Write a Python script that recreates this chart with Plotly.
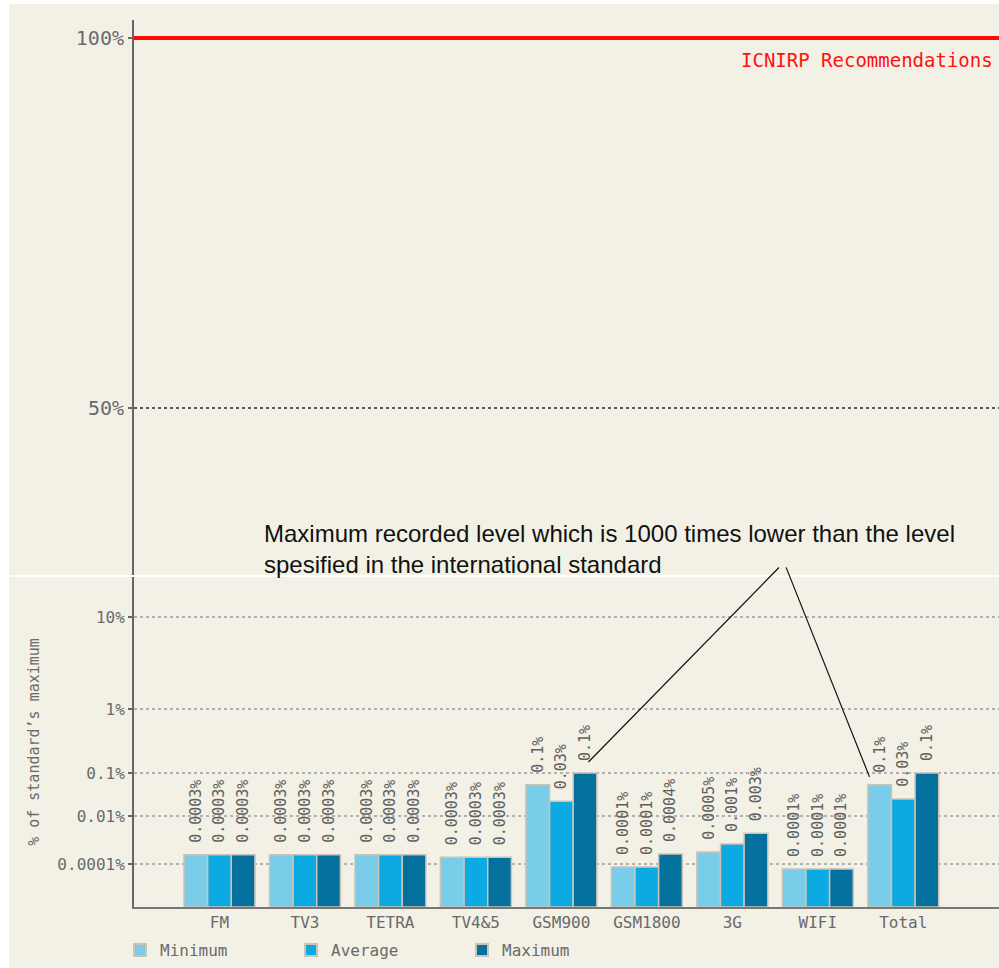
import numpy as np
import plotly.graph_objects as go

# ---------------- data ----------------
categories = ["FM", "TV3", "TETRA", "TV4&5", "GSM900", "GSM1800", "3G", "WIFI", "Total"]
minimum = [0.00024, 0.00024, 0.00024, 0.00019, 0.053, 0.000075, 0.00032, 0.000062, 0.053]
average = [0.00024, 0.00024, 0.00024, 0.00019, 0.022, 0.000075, 0.00068, 0.000062, 0.025]
maximum = [0.00024, 0.00024, 0.00024, 0.00019, 0.1, 0.00026, 0.0019, 0.000062, 0.1]
min_labels = ["0.0003%", "0.0003%", "0.0003%", "0.0003%", "0.1%", "0.0001%", "0.0005%", "0.0001%", "0.1%"]
avg_labels = ["0.0003%", "0.0003%", "0.0003%", "0.0003%", "0.03%", "0.0001%", "0.001%", "0.0001%", "0.03%"]
max_labels = ["0.0003%", "0.0003%", "0.0003%", "0.0003%", "0.1%", "0.0004%", "0.003%", "0.0001%", "0.1%"]
series_names = ["Minimum", "Average", "Maximum"]

tick_values = [0.0001, 0.01, 0.1, 1, 10]
tick_text = ["0.0001%", "0.01%", "0.1%", "1%", "10%"]
top_tick_values = [50, 100]
top_tick_text = ["50%", "100%"]
icnirp_limit = 100

# ---------------- axis scale (non-uniform log-like scale of the original) ----------------
SCALE_HEIGHTS = [43, 91, 134, 198, 290]


def scale(v):
    lx = np.log10(tick_values)
    lv = np.log10(v)
    if lv < lx[0]:
        slope = (SCALE_HEIGHTS[1] - SCALE_HEIGHTS[0]) / (lx[1] - lx[0])
        return SCALE_HEIGHTS[0] + (lv - lx[0]) * slope
    return float(np.interp(lv, lx, SCALE_HEIGHTS))


W, H = 999, 968
BG = "#F3F1E6"
MONO = "DejaVu Sans Mono, Liberation Mono, monospace"
GRAY = "#6a6a6a"
colors = ["#79CDE9", "#0BAAE3", "#03709E"]

fig = go.Figure()
for name, vals, labels, col in zip(series_names, [minimum, average, maximum],
                                   [min_labels, avg_labels, max_labels], colors):
    fig.add_trace(go.Bar(
        name=name,
        x=categories,
        y=[scale(v) for v in vals],
        customdata=vals,
        text=labels,
        texttemplate="\u2009%{text}",
        textposition="outside",
        textangle=-90,
        constraintext="none",
        cliponaxis=False,
        textfont=dict(family=MONO, size=15, color="#606060"),
        marker=dict(color=col, line=dict(color="#CBC3B6", width=1.5)),
        hovertemplate="%{x}: %{customdata}%<extra>" + name + "</extra>",
        xaxis="x", yaxis="y",
    ))


def py(px):
    return (H - px) / H


def px_x(px):
    return px / W


fig.update_layout(
    width=W, height=H, autosize=False,
    margin=dict(l=0, r=0, t=0, b=0),
    paper_bgcolor=BG,
    plot_bgcolor="rgba(0,0,0,0)",
    barmode="group",
    bargap=0.17,
    bargroupgap=0,
    showlegend=True,
    legend=dict(
        orientation="h", x=px_x(120), xanchor="left", y=py(950), yanchor="middle",
        font=dict(family=MONO, size=16, color=GRAY),
        entrywidth=126, entrywidthmode="pixels",
        bgcolor="rgba(0,0,0,0)", itemsizing="constant",
    ),
    xaxis=dict(
        domain=[px_x(134), 1], anchor="y", type="category",
        range=[-1.0, 9.12],
        showline=True, linecolor="#777", linewidth=2,
        ticks="", showgrid=False,
        tickfont=dict(family=MONO, size=16, color=GRAY),
    ),
    yaxis=dict(
        domain=[py(907), py(577)], anchor="x",
        range=[0, 330],
        tickvals=[scale(v) for v in tick_values], ticktext=tick_text,
        showline=True, linecolor="#666", linewidth=2,
        ticks="outside", ticklen=4, tickcolor="#666", tickwidth=2,
        showgrid=True, gridcolor="#B0B0B0", griddash="dot", gridwidth=1.5,
        zeroline=False,
        tickfont=dict(family=MONO, size=16, color=GRAY),
        title=dict(text="% of standard’s maximum", standoff=14,
                   font=dict(family=MONO, size=15, color=GRAY)),
    ),
    xaxis2=dict(
        domain=[px_x(134), 1], anchor="y2", matches="x", type="category",
        showline=False, showticklabels=False, ticks="", showgrid=False,
    ),
    yaxis2=dict(
        domain=[py(575), py(20)], anchor="x2",
        range=[27.43, 102.43],
        tickvals=top_tick_values, ticktext=top_tick_text,
        showline=True, linecolor="#666", linewidth=2,
        ticks="outside", ticklen=4, tickcolor="#666", tickwidth=2,
        showgrid=True, gridcolor="#5a5a5a", griddash="dot", gridwidth=2,
        zeroline=False,
        tickfont=dict(family=MONO, size=20, color=GRAY),
    ),
)

# dummy trace so the top axes are drawn
fig.add_trace(go.Scatter(x=categories, y=[None] * len(categories), xaxis="x2", yaxis="y2",
                         showlegend=False, hoverinfo="skip"))

# page framing: white strips around the beige chart, white panel separator
fig.add_shape(type="rect", xref="paper", yref="paper", x0=0, x1=px_x(9), y0=0, y1=1,
              fillcolor="white", line_width=0, layer="below")
fig.add_shape(type="rect", xref="paper", yref="paper", x0=0, x1=1, y0=py(4), y1=1,
              fillcolor="white", line_width=0, layer="below")
fig.add_shape(type="rect", xref="paper", yref="paper", x0=px_x(9), x1=1, y0=py(577), y1=py(575),
              fillcolor="white", line_width=0, layer="below")

# ICNIRP recommendation line
fig.add_shape(type="line", xref="x2 domain", yref="y2", x0=0, x1=1,
              y0=icnirp_limit, y1=icnirp_limit, line=dict(color="#FF0A0A", width=4))
fig.add_annotation(xref="paper", yref="y2", x=px_x(995), y=icnirp_limit, xanchor="right",
                   yanchor="top", yshift=-9, showarrow=False,
                   text="ICNIRP Recommendations",
                   font=dict(family=MONO, size=19, color="#FF1010"))

# callout text and leader lines
fig.add_annotation(xref="paper", yref="paper", x=px_x(262), y=py(518), xanchor="left",
                   yanchor="top", showarrow=False, align="left",
                   text="Maximum recorded level which is 1000 times lower than the level<br>"
                        "spesified in the international standard",
                   font=dict(family="Liberation Sans, Arial, sans-serif", size=24, color="#111"))
bw = (1 - 0.17) / 3
gi = categories.index("GSM900")
ti = categories.index("Total")
fig.add_annotation(xref="x", yref="y", x=gi + bw + 0.04, y=scale(maximum[gi]) + 11,
                   ax=192, ay=-196, axref="pixel", ayref="pixel",
                   showarrow=True, arrowhead=0, arrowwidth=1.2, arrowcolor="#111", text="")
fig.add_annotation(xref="x", yref="y", x=ti - bw - bw / 2 + 0.02, y=scale(minimum[ti]) + 8,
                   ax=-84, ay=-211, axref="pixel", ayref="pixel",
                   showarrow=True, arrowhead=0, arrowwidth=1.2, arrowcolor="#111", text="")

fig.write_html("out.html", config={"displayModeBar": False},
               post_script="document.body.style.margin='0';document.body.style.overflow='hidden';")
